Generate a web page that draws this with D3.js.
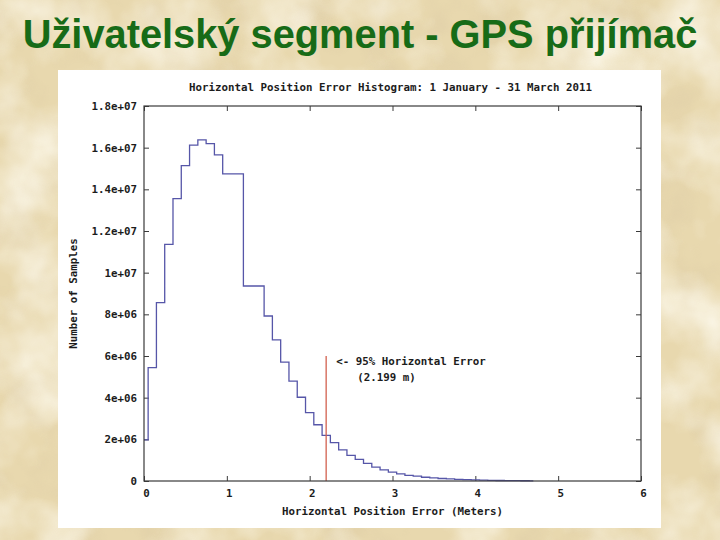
<!DOCTYPE html>
<html>
<head>
<meta charset="utf-8">
<script src="https://cdn.jsdelivr.net/npm/d3@7"></script>
<style>
  html, body { margin: 0; padding: 0; background: #e8d8ae; }
  svg { display: block; }
</style>
</head>
<body>
<script>
// ---------- data ----------
const pageTitle = "Uživatelský segment - GPS přijímač";
const chartTitle = "Horizontal Position Error Histogram: 1 January - 31 March 2011";
const xAxisTitle = "Horizontal Position Error (Meters)";
const yAxisTitle = "Number of Samples";
const xTicks = [0, 1, 2, 3, 4, 5, 6];
const xTickLabels = ["0", "1", "2", "3", "4", "5", "6"];
const yTicks = [0, 2e6, 4e6, 6e6, 8e6, 1e7, 1.2e7, 1.4e7, 1.6e7, 1.8e7];
const yTickLabels = ["0", "2e+06", "4e+06", "6e+06", "8e+06", "1e+07", "1.2e+07", "1.4e+07", "1.6e+07", "1.8e+07"];
// histogram bin centres (m) and sample counts
const binCenters = [0.0, 0.1, 0.2, 0.3, 0.4, 0.5, 0.6, 0.7, 0.8, 0.9, 1.0,
  1.4, 1.5, 1.6, 1.7, 1.8, 1.9, 2.0, 2.1, 2.2, 2.3, 2.4, 2.5, 2.6, 2.7, 2.8, 2.9,
  3.0, 3.1, 3.2, 3.3, 3.4, 3.5, 3.6, 3.7, 3.8, 3.9, 4.0, 4.1, 4.2, 4.3, 4.4, 4.5, 4.6, 4.7];
const counts = [1.97e6, 5.44e6, 8.56e6, 1.136e7, 1.355e7, 1.514e7, 1.612e7, 1.637e7, 1.619e7, 1.565e7, 1.474e7,
  9.36e6, 7.92e6, 6.77e6, 5.71e6, 4.79e6, 4.02e6, 3.28e6, 2.70e6, 2.19e6, 1.84e6, 1.49e6, 1.23e6, 1.04e6, 8.5e5, 6.7e5, 5.3e5,
  4.3e5, 3.4e5, 2.7e5, 2.3e5, 1.8e5, 1.5e5, 1.2e5, 1.0e5, 8e4, 6.5e4, 5e4, 4e4, 3e4, 2.5e4, 2e4, 1.5e4, 1.2e4, 1e4];
const error95 = 2.199;
const error95LineTop = 6e6;
const annotationLines = ["<- 95% Horizontal Error", "(2.199 m)"];

// ---------- drawing ----------
const W = 720, H = 540;
const svg = d3.select("body").append("svg").attr("width", W).attr("height", H);
const defs = svg.append("defs");

// parchment texture
const f1 = defs.append("filter").attr("id", "paper").attr("x", 0).attr("y", 0).attr("width", "100%").attr("height", "100%");
f1.append("feTurbulence").attr("type", "fractalNoise").attr("baseFrequency", 0.012).attr("numOctaves", 4).attr("seed", 7).attr("result", "n");
f1.append("feColorMatrix").attr("in", "n").attr("type", "matrix")
  .attr("values", "0 0 0 0 1  0 0 0 0 0.98  0 0 0 0 0.9  2.2 0 0 0 -0.9");
const f2 = defs.append("filter").attr("id", "paper2").attr("x", 0).attr("y", 0).attr("width", "100%").attr("height", "100%");
f2.append("feTurbulence").attr("type", "fractalNoise").attr("baseFrequency", 0.02).attr("numOctaves", 3).attr("seed", 21).attr("result", "n");
f2.append("feColorMatrix").attr("in", "n").attr("type", "matrix")
  .attr("values", "0 0 0 0 0.72  0 0 0 0 0.6  0 0 0 0 0.38  2.0 0 0 0 -0.95");

svg.append("rect").attr("width", W).attr("height", H).attr("fill", "#e8d8ae");
svg.append("rect").attr("width", W).attr("height", H).attr("filter", "url(#paper2)").attr("opacity", 0.7);
svg.append("rect").attr("width", W).attr("height", H).attr("filter", "url(#paper)").attr("opacity", 0.8);

// page title
const t = svg.append("text").text(pageTitle)
  .attr("x", W / 2).attr("y", 48).attr("text-anchor", "middle")
  .attr("font-family", "'Liberation Sans', Arial, sans-serif").attr("font-weight", "bold")
  .attr("font-size", 30).attr("fill", "#176b17");
const tw = t.node().getComputedTextLength();
t.attr("font-size", 30 * 675 / tw);

// white chart panel
svg.append("rect").attr("x", 58).attr("y", 70).attr("width", 603).attr("height", 458).attr("fill", "#ffffff");

const pLeft = 144, pRight = 641, pTop = 106, pBottom = 481;
const x = d3.scaleLinear().domain([0, 6]).range([pLeft, pRight]);
const y = d3.scaleLinear().domain([0, 1.8e7]).range([pBottom, pTop]);

const font = "'DejaVu Sans Mono', 'Liberation Mono', monospace";
const ink = "#1c1c1c";
const axisColor = "#3a3a3a";

function styleAxis(g, showLabels) {
  g.select(".domain").remove();
  g.selectAll(".tick line").attr("stroke", axisColor).attr("stroke-width", 1);
  g.selectAll(".tick text")
    .attr("font-family", font).attr("font-weight", "bold").attr("font-size", 10.8).attr("fill", ink);
  if (!showLabels) g.selectAll(".tick text").remove();
}

// left axis
svg.append("g").attr("transform", `translate(${pLeft},0)`)
  .call(d3.axisLeft(y).tickValues(yTicks).tickSize(-5).tickPadding(7)
    .tickFormat((d, i) => yTickLabels[i]))
  .call(g => styleAxis(g, true));
// right mirror
svg.append("g").attr("transform", `translate(${pRight},0)`)
  .call(d3.axisRight(y).tickValues(yTicks).tickSize(-5).tickFormat(""))
  .call(g => styleAxis(g, false));
// bottom axis
svg.append("g").attr("transform", `translate(0,${pBottom})`)
  .call(d3.axisBottom(x).tickValues(xTicks).tickSize(-5).tickPadding(8)
    .tickFormat((d, i) => xTickLabels[i]))
  .call(g => styleAxis(g, true))
  .call(g => g.selectAll(".tick text").attr("dx", 2));
// top mirror
svg.append("g").attr("transform", `translate(0,${pTop})`)
  .call(d3.axisTop(x).tickValues(xTicks).tickSize(-5).tickFormat(""))
  .call(g => styleAxis(g, false));

// histogram (histeps style)
const pts = binCenters.map((c, i) => [c, counts[i]]);
svg.append("path").datum(pts)
  .attr("d", d3.line().x(d => x(d[0])).y(d => y(d[1])).curve(d3.curveStep))
  .attr("fill", "none").attr("stroke", "#5656a8").attr("stroke-width", 1.3);

// 95% line
svg.append("line")
  .attr("x1", x(error95)).attr("x2", x(error95))
  .attr("y1", y(0)).attr("y2", y(error95LineTop))
  .attr("stroke", "#d2604e").attr("stroke-width", 1.3);

// plot border
svg.append("rect").attr("x", pLeft).attr("y", pTop).attr("width", pRight - pLeft).attr("height", pBottom - pTop)
  .attr("fill", "none").attr("stroke", axisColor).attr("stroke-width", 1.2);

// annotation
const ann = svg.append("g").attr("font-family", font).attr("font-weight", "bold").attr("font-size", 10.8).attr("fill", ink);
ann.append("text").attr("x", x(error95) + 10).attr("y", y(error95LineTop) + 9).text(annotationLines[0]);
ann.append("text").attr("x", x(error95) + 31).attr("y", y(error95LineTop) + 25).text(annotationLines[1]);

// chart title and axis titles
svg.append("text").attr("x", (pLeft + pRight) / 2 - 2).attr("y", 91).attr("text-anchor", "middle")
  .attr("font-family", font).attr("font-weight", "bold").attr("font-size", 10.8).attr("fill", ink)
  .text(chartTitle);
svg.append("text").attr("x", (pLeft + pRight) / 2).attr("y", 515).attr("text-anchor", "middle")
  .attr("font-family", font).attr("font-weight", "bold").attr("font-size", 10.8).attr("fill", ink)
  .text(xAxisTitle);
svg.append("text").attr("transform", `translate(77,${(pTop + pBottom) / 2}) rotate(-90)`).attr("text-anchor", "middle")
  .attr("font-family", font).attr("font-weight", "bold").attr("font-size", 10.8).attr("fill", ink)
  .text(yAxisTitle);
</script>
</body>
</html>
